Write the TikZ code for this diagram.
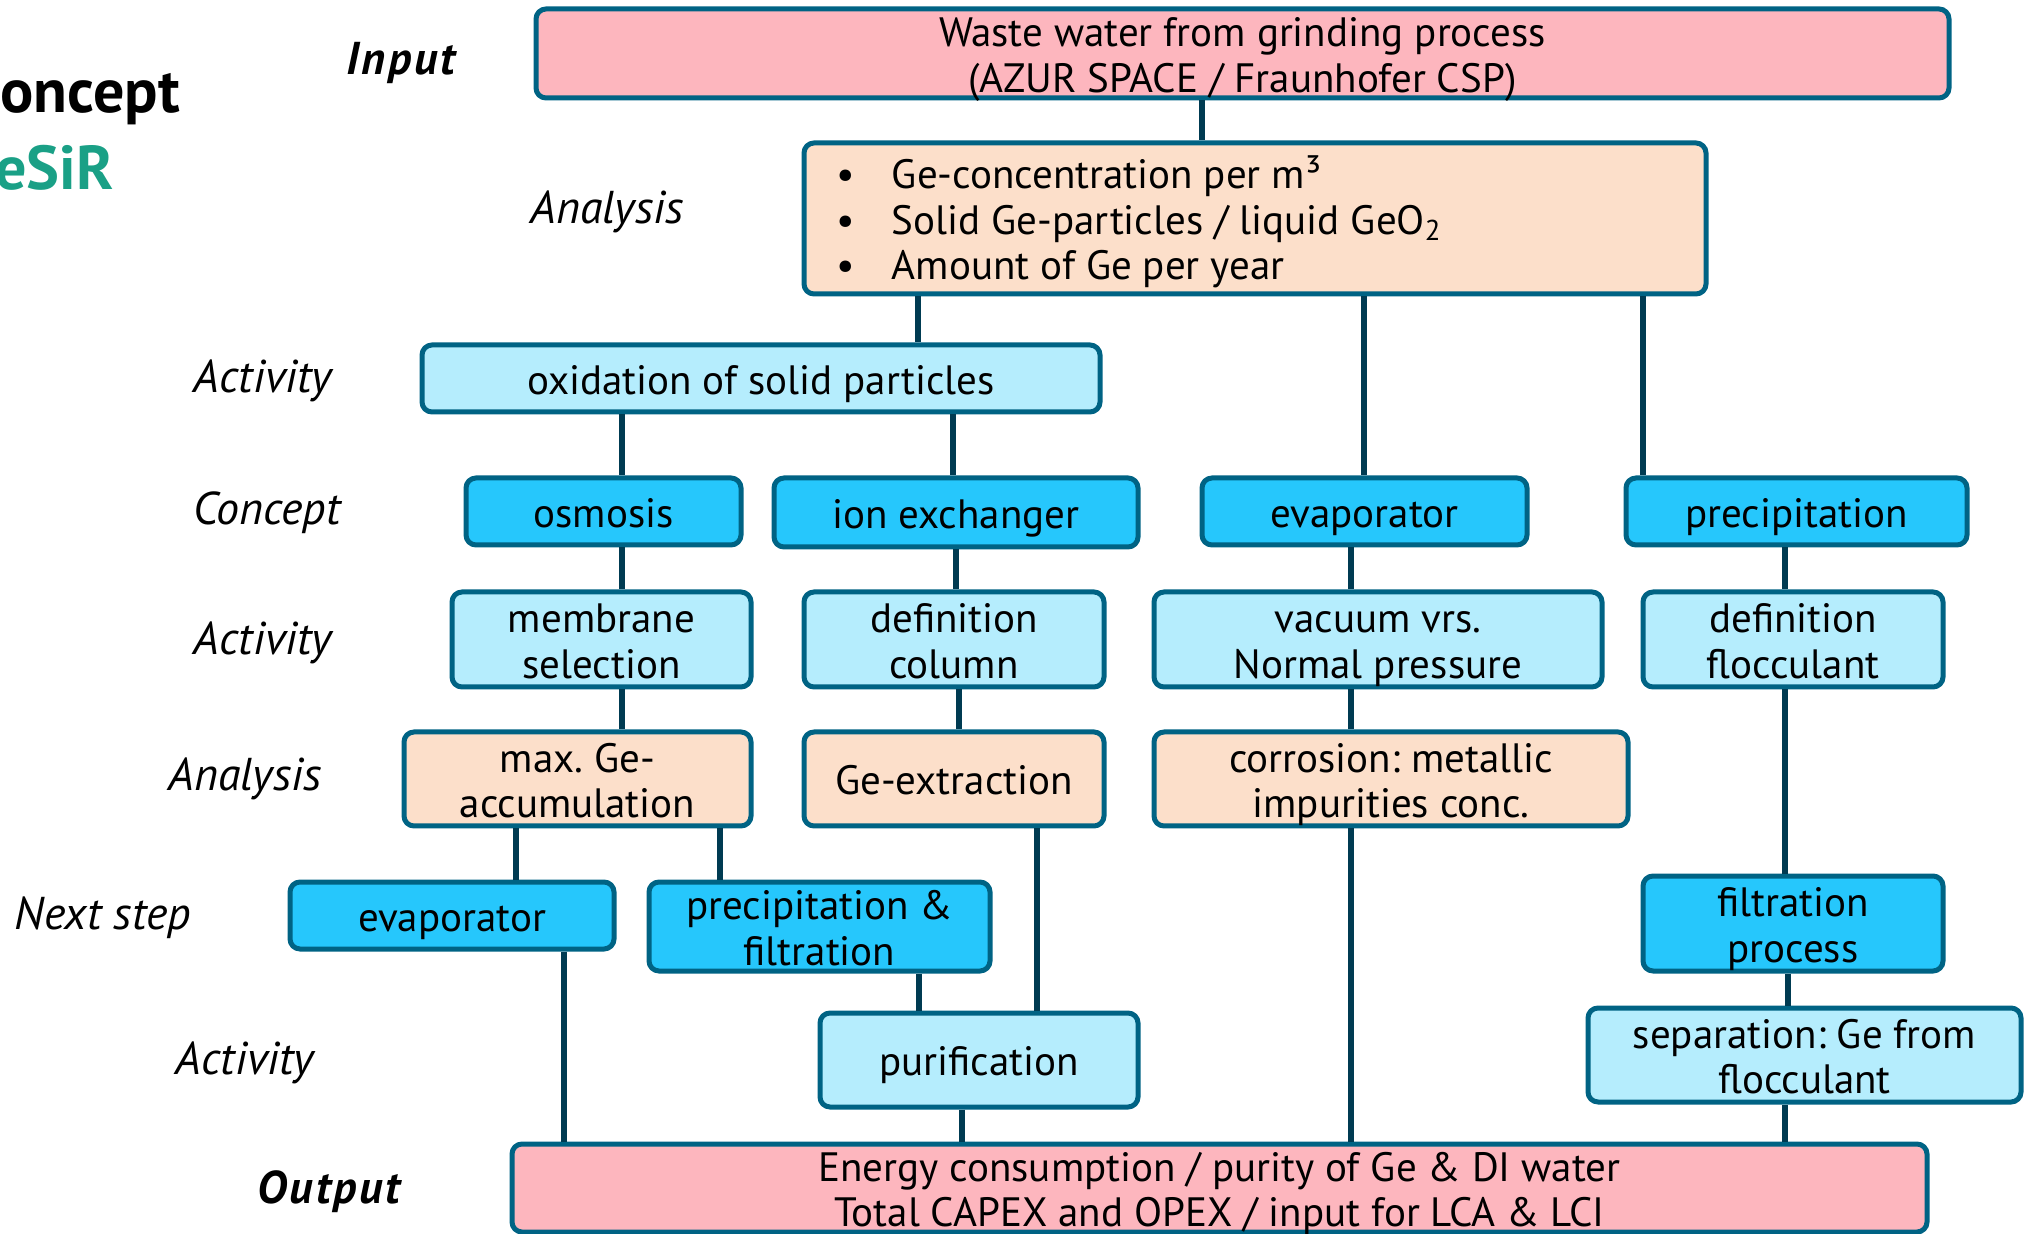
\documentclass[tikz,border=0pt]{standalone}
\usepackage{fontspec}
\setmainfont{PT Sans}
\frenchspacing
\definecolor{bord}{HTML}{006384}
\definecolor{lin}{HTML}{003B52}
\definecolor{pinkf}{HTML}{FDB6BE}
\definecolor{peachf}{HTML}{FCDFCA}
\definecolor{lightf}{HTML}{B5EDFD}
\definecolor{cyanf}{HTML}{26C7FC}
\definecolor{teal}{HTML}{1AA086}
\newcommand\bx[7]{%
  \node[#6, minimum width={(#4-#2)*0.5pt}, minimum height={(#5-#3)*0.5pt}, text width={(#4-#2)*0.5pt-4pt}] (#1) at ({(#2+#4)/2},{(#3+#5)/2}) {#7};}
\newcommand\topstrut{\rule{0pt}{20.9pt}}
\newcommand\botstrut{\rule[-5pt]{0pt}{5pt}}
\tikzset{
  box/.style={draw=bord, line width=2.5pt, rounded corners=5pt, inner xsep=0pt, inner ysep=-8pt, align=flush center,
    font=\fontsize{20.5}{22.8}\selectfont, text=black,
    execute at begin node={\frenchspacing\spaceskip=0pt\xspaceskip=0pt\topstrut}, execute at end node=\botstrut},
  pinkb/.style={box, fill=pinkf},
  peachb/.style={box, fill=peachf},
  lightb/.style={box, fill=lightf},
  cyanb/.style={box, fill=cyanf},
  conn/.style={draw=lin, line width=3pt},
  lab/.style={font=\fontsize{23}{26}\selectfont\itshape, inner sep=0pt},
  labb/.style={font=\fontsize{23}{26}\selectfont\bfseries\itshape\addfontfeature{LetterSpace=6}, inner sep=0pt},
}
\begin{document}
\begin{tikzpicture}[x=0.5pt,y=-0.5pt]
\useasboundingbox (0,0) rectangle (2024,1234);
% title
\node[anchor=base west, inner sep=0pt, font=\fontsize{31}{36}\selectfont\bfseries] (t1) at (0,113) {oncept};
\node[anchor=base west, inner sep=0pt, font=\fontsize{31}{36}\selectfont\bfseries, text=teal] (t2) at (-5,190) {eSiR};
% row labels
\node[labb] (l1) at (401,63) {Input};
\node[lab] (l2) at (607,212) {Analysis};
\node[lab] (l3) at (263,381) {Activity};
\node[lab] (l4) at (267,513) {Concept};
\node[lab] (l5) at (263,643) {Activity};
\node[lab] (l6) at (245,779) {Analysis};
\node[lab] (l7) at (103,918) {Next step};
\node[lab] (l8) at (245,1063) {Activity};
\node[labb] (l9) at (329,1192) {Output};
% connector x positions
\coordinate (c1) at (1202,0);
\coordinate (c2) at (918,0);
\coordinate (c3) at (1364,0);
\coordinate (c4) at (1643,0);
\coordinate (c5) at (622,0);
\coordinate (c6) at (953,0);
\coordinate (c7) at (956,0);
\coordinate (c8) at (1351,0);
\coordinate (c9) at (1785,0);
\coordinate (c10) at (959,0);
\coordinate (c11) at (516,0);
\coordinate (c12) at (720,0);
\coordinate (c13) at (1037,0);
\coordinate (c14) at (564,0);
\coordinate (c15) at (919,0);
\coordinate (c16) at (962,0);
\coordinate (c17) at (1788,0);
% boxes
\bx{in}{536}{9}{1949}{98}{pinkb}{Waste water from grinding process\\(AZUR SPACE / Fraunhofer CSP)}
\node[peachb, align=left, minimum width={(1706-804)*0.5pt}, minimum height={(294-143)*0.5pt}, text width={(1706-804-64)*0.5pt}] (ana) at ({(804+1706)/2},{(143+294)/2})
  {\makebox[28pt][l]{\textbullet}Ge-concentration per m³\\
   \makebox[28pt][l]{\textbullet}Solid Ge-particles / liquid GeO\textsubscript{2}\\
   \makebox[28pt][l]{\textbullet}Amount of Ge per year};
\bx{oxid}{422}{345}{1100}{412}{lightb}{oxidation of solid particles}
\bx{osm}{466}{478}{741}{545}{cyanb}{osmosis}
\bx{ion}{774}{478}{1138}{547}{cyanb}{ion exchanger}
\bx{evap}{1202}{478}{1527}{545}{cyanb}{evaporator}
\bx{prec}{1626}{478}{1967}{545}{cyanb}{precipitation}
\bx{memb}{452}{592}{751}{687}{lightb}{membrane\\selection}
\bx{defcol}{804}{592}{1104}{687}{lightb}{definition\\column}
\bx{vac}{1154}{592}{1602}{687}{lightb}{vacuum vrs.\\Normal pressure}
\bx{deffl}{1643}{592}{1943}{687}{lightb}{definition\\flocculant}
\bx{maxge}{404}{732}{751}{826}{peachb}{max. Ge-\\accumulation}
\bx{geext}{804}{732}{1104}{826}{peachb}{Ge-extraction}
\bx{corr}{1154}{732}{1628}{826}{peachb}{corrosion: metallic\\impurities conc.}
\bx{evap2}{290}{882}{614}{949}{cyanb}{evaporator}
\bx{pf}{649}{882}{990}{971}{cyanb}{precipitation \&\\filtration}
\bx{filt}{1643}{876}{1943}{971}{cyanb}{filtration\\process}
\bx{pur}{820}{1013}{1138}{1107}{lightb}{purification}
\bx{sep}{1588}{1008}{2021}{1102}{lightb}{separation: Ge from\\flocculant}
\bx{out}{512}{1144}{1927}{1232}{pinkb}{Energy consumption / purity of Ge \& DI water\\Total CAPEX and OPEX / input for LCA \& LCI}
% connectors
\draw[conn] (in.south -| c1) -- (ana.north -| c1);
\draw[conn] (ana.south -| c2) -- (oxid.north -| c2);
\draw[conn] (ana.south -| c3) -- (evap.north -| c3);
\draw[conn] (ana.south -| c4) -- (prec.north -| c4);
\draw[conn] (oxid.south -| c5) -- (osm.north -| c5);
\draw[conn] (oxid.south -| c6) -- (ion.north -| c6);
\draw[conn] (osm.south -| c5) -- (memb.north -| c5);
\draw[conn] (ion.south -| c7) -- (defcol.north -| c7);
\draw[conn] (evap.south -| c8) -- (vac.north -| c8);
\draw[conn] (prec.south -| c9) -- (deffl.north -| c9);
\draw[conn] (memb.south -| c5) -- (maxge.north -| c5);
\draw[conn] (defcol.south -| c10) -- (geext.north -| c10);
\draw[conn] (vac.south -| c8) -- (corr.north -| c8);
\draw[conn] (deffl.south -| c9) -- (filt.north -| c9);
\draw[conn] (maxge.south -| c11) -- (evap2.north -| c11);
\draw[conn] (maxge.south -| c12) -- (pf.north -| c12);
\draw[conn] (geext.south -| c13) -- (pur.north -| c13);
\draw[conn] (corr.south -| c8) -- (out.north -| c8);
\draw[conn] (evap2.south -| c14) -- (out.north -| c14);
\draw[conn] (pf.south -| c15) -- (pur.north -| c15);
\draw[conn] (pur.south -| c16) -- (out.north -| c16);
\draw[conn] (filt.south -| c17) -- (sep.north -| c17);
\draw[conn] (sep.south -| c9) -- (out.north -| c9);
\end{tikzpicture}
\end{document}
